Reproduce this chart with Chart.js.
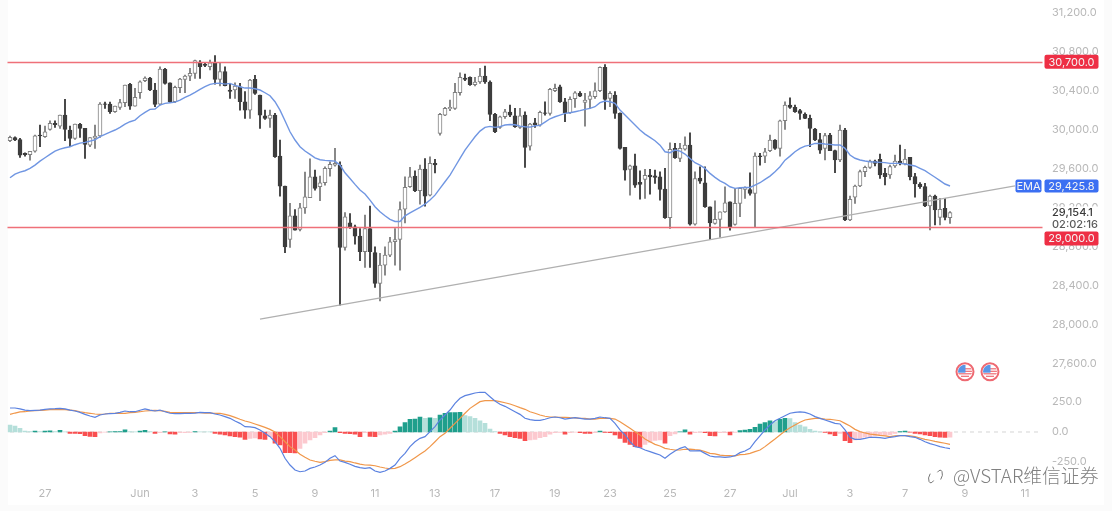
<!DOCTYPE html>
<html>
<head>
<meta charset="utf-8">
<title>BTC 4H</title>
<script src="https://cdn.jsdelivr.net/npm/chart.js@4/dist/chart.umd.min.js"></script>
<style>
  html, body { margin: 0; padding: 0; background: #fff; }
  canvas { display: block; }
</style>
</head>
<body>
<canvas id="chart" width="1112" height="511"></canvas>
<script>
// 4H candles, oldest first
const opens = [
  29890, 29921, 29903, 29760, 29746, 29784, 29948, 29931, 30006, 30068,
  30040, 30153, 29999, 29914, 30057, 30016, 29845, 29917, 29938, 30269,
  30266, 30187, 30232, 30280, 30468, 30245, 30382, 30505, 30533, 30410,
  30266, 30622, 30485, 30290, 30434, 30519, 30553, 30581, 30697, 30673,
  30649, 30690, 30519, 30598, 30410, 30410, 30444, 30290, 30204, 30519,
  30358, 30146, 30119, 30153, 29732, 29425, 28877, 29120, 28980, 29202,
  29305, 29520, 29418, 29459, 29603, 29640, 29640, 28795, 29048, 29007,
  28912, 28751, 28990, 28744, 28426, 28614, 28717, 28854, 28877, 29189,
  29418, 29527, 29377, 29599, 29332, 29657, 29965, 30153, 30218, 30221,
  30382, 30533, 30540, 30464, 30492, 30553, 30492, 30160, 30027, 30136,
  30184, 30146, 30027, 30153, 29835, 30074, 30050, 30177, 30170, 30403,
  30444, 30290, 30177, 30321, 30375, 30283, 30314, 30341, 30403, 30642,
  30324, 30358, 30170, 29821, 29596, 29633, 29462, 29493, 29538, 29531,
  29520, 29394, 29100, 29811, 29708, 29804, 29845, 29035, 29507, 29459,
  29213, 29042, 29083, 29161, 29264, 29031, 29247, 29390, 29390, 29349,
  29736, 29732, 29787, 29897, 29811, 30095, 30256, 30232, 30198, 30160,
  30119, 30009, 29903, 29812, 29949, 29788, 29692, 30000, 29077, 29310,
  29426, 29573, 29617, 29682, 29699, 29556, 29539, 29631, 29682, 29651,
  29720, 29521, 29446, 29419, 29221, 29323, 29104, 29197, 29101
];
const highs = [
  29938, 29931, 29914, 29767, 29780, 29948, 30050, 30040, 30095, 30095,
  30153, 30314, 30040, 30061, 30068, 30016, 29921, 30050, 30280, 30286,
  30286, 30245, 30314, 30461, 30478, 30427, 30505, 30546, 30540, 30478,
  30649, 30632, 30485, 30451, 30529, 30564, 30632, 30717, 30711, 30683,
  30717, 30762, 30690, 30649, 30478, 30485, 30478, 30393, 30519, 30560,
  30358, 30204, 30204, 30170, 29897, 29425, 29247, 29185, 29247, 29568,
  29705, 29589, 29527, 29623, 29674, 29811, 29674, 29154, 29144, 29024,
  28990, 29127, 29219, 28802, 28734, 28802, 28898, 28990, 29264, 29520,
  29616, 29582, 29640, 29708, 29726, 29698, 30170, 30232, 30307, 30478,
  30587, 30574, 30546, 30540, 30632, 30656, 30505, 30170, 30143, 30211,
  30256, 30221, 30221, 30187, 30068, 30119, 30194, 30290, 30427, 30471,
  30461, 30324, 30341, 30393, 30393, 30375, 30393, 30485, 30649, 30670,
  30393, 30393, 30177, 29821, 29640, 29753, 29582, 29596, 29596, 29589,
  29572, 29606, 29869, 29862, 29862, 29931, 29972, 29572, 29623, 29623,
  29213, 29274, 29161, 29418, 29264, 29401, 29411, 29418, 29561, 29767,
  29760, 29811, 29948, 29903, 30102, 30290, 30331, 30256, 30211, 30177,
  30153, 30016, 29965, 29966, 29966, 29795, 30051, 30017, 29323, 29436,
  29590, 29631, 29692, 29692, 29754, 29607, 29641, 29744, 29846, 29802,
  29720, 29556, 29460, 29453, 29333, 29333, 29299, 29299, 29162
];
const lows = [
  29880, 29890, 29719, 29732, 29691, 29773, 29828, 29924, 29999, 30027,
  30016, 29890, 29828, 29903, 29924, 29708, 29828, 29811, 29924, 30222,
  30170, 30180, 30211, 30239, 30211, 30245, 30324, 30495, 30403, 30239,
  30256, 30471, 30280, 30280, 30382, 30382, 30505, 30529, 30529, 30649,
  30615, 30471, 30451, 30451, 30324, 30324, 30204, 30119, 30119, 30365,
  30016, 30109, 30027, 29719, 29322, 28741, 28795, 28973, 28966, 29144,
  29305, 29384, 29274, 29435, 29527, 29630, 28204, 28768, 28990, 28830,
  28659, 28590, 28590, 28385, 28248, 28511, 28700, 28614, 28563, 29048,
  29411, 29367, 29240, 29219, 29325, 29561, 29948, 30146, 30198, 30211,
  30358, 30505, 30457, 30451, 30478, 30478, 30095, 29972, 30016, 30119,
  30136, 30027, 30016, 29616, 29794, 30027, 30040, 30153, 30153, 30393,
  30283, 30085, 30170, 30232, 30341, 30040, 30221, 30324, 30393, 30211,
  30239, 30119, 29804, 29486, 29332, 29411, 29291, 29298, 29343, 29452,
  29281, 29093, 28990, 29708, 29674, 29794, 29024, 29024, 29452, 29206,
  28877, 29035, 28898, 29154, 28973, 29024, 29110, 29298, 29332, 29000,
  29640, 29664, 29777, 29801, 29732, 30006, 30221, 30180, 30109, 30115,
  29828, 29890, 29760, 29692, 29788, 29563, 29675, 29070, 29070, 29248,
  29419, 29521, 29607, 29631, 29504, 29436, 29504, 29617, 29641, 29641,
  29487, 29310, 29402, 29214, 28974, 29026, 29026, 29077, 29043
];
const closes = [
  29924, 29897, 29743, 29746, 29780, 29941, 29938, 29982, 30068, 30054,
  30153, 30006, 29914, 30061, 30016, 29852, 29921, 29938, 30266, 30263,
  30187, 30245, 30280, 30461, 30245, 30334, 30495, 30533, 30410, 30263,
  30625, 30478, 30290, 30437, 30522, 30553, 30581, 30711, 30649, 30663,
  30690, 30519, 30598, 30454, 30396, 30451, 30290, 30204, 30512, 30375,
  30153, 30119, 30153, 29726, 29425, 28802, 29120, 28973, 29202, 29315,
  29520, 29401, 29459, 29606, 29647, 29657, 28795, 29110, 29000, 28912,
  28751, 28990, 28751, 28426, 28614, 28717, 28854, 28877, 29185, 29411,
  29520, 29377, 29599, 29322, 29657, 29643, 30160, 30221, 30232, 30386,
  30540, 30519, 30464, 30492, 30553, 30492, 30160, 29982, 30136, 30187,
  30153, 30033, 30146, 29821, 30061, 30054, 30180, 30170, 30416, 30427,
  30290, 30177, 30314, 30382, 30348, 30307, 30351, 30403, 30642, 30314,
  30375, 30170, 29811, 29589, 29633, 29435, 29442, 29534, 29520, 29514,
  29390, 29100, 29801, 29715, 29811, 29845, 29035, 29503, 29476, 29213,
  29048, 29083, 29161, 29254, 29007, 29247, 29401, 29408, 29349, 29732,
  29726, 29777, 29897, 29811, 30095, 30256, 30232, 30187, 30170, 30119,
  30016, 29897, 29794, 29942, 29788, 29692, 30000, 29077, 29289, 29426,
  29573, 29617, 29682, 29658, 29539, 29521, 29624, 29682, 29651, 29703,
  29521, 29446, 29419, 29221, 29323, 29180, 29186, 29104, 29154.1
];
const emaValues = [
  29510, 29548, 29568, 29582, 29606, 29640, 29681, 29715, 29750, 29784,
  29804, 29818, 29828, 29849, 29866, 29873, 29886, 29900, 29931, 29955,
  29979, 30000, 30027, 30061, 30085, 30102, 30146, 30180, 30211, 30215,
  30256, 30273, 30280, 30286, 30307, 30334, 30358, 30386, 30416, 30444,
  30468, 30478, 30481, 30471, 30478, 30457, 30444, 30430, 30430, 30423,
  30410, 30382, 30351, 30290, 30204, 30095, 29982, 29897, 29828, 29784,
  29750, 29715, 29695, 29688, 29685, 29681, 29640, 29561, 29503, 29442,
  29384, 29343, 29281, 29213, 29161, 29120, 29083, 29062, 29062, 29120,
  29151, 29178, 29206, 29240, 29281, 29332, 29401, 29469, 29538, 29623,
  29708, 29794, 29862, 29931, 29989, 30027, 30037, 30027, 30034, 30051,
  30057, 30054, 30040, 30034, 30030, 30044, 30047, 30081, 30115, 30136,
  30153, 30170, 30177, 30187, 30198, 30211, 30222, 30239, 30280, 30297,
  30290, 30273, 30204, 30153, 30102, 30051, 30000, 29958, 29924, 29890,
  29845, 29777, 29767, 29794, 29784, 29753, 29708, 29664, 29640, 29606,
  29555, 29514, 29479, 29452, 29418, 29401, 29408, 29411, 29411, 29435,
  29459, 29493, 29527, 29572, 29623, 29691, 29732, 29777, 29811, 29835,
  29845, 29862, 29863, 29857, 29853, 29846, 29846, 29812, 29744, 29710,
  29692, 29682, 29675, 29672, 29668, 29665, 29658, 29658, 29658, 29651,
  29641, 29631, 29607, 29583, 29549, 29515, 29480, 29446, 29425.8
];

// MACD pane
const macdLine = [
  200, 200, 192, 183, 178, 181, 183, 189, 192, 194,
  197, 192, 183, 175, 164, 147, 133, 122, 142, 150,
  153, 156, 164, 175, 169, 169, 181, 192, 183, 175,
  183, 169, 156, 153, 153, 156, 156, 158, 164, 161,
  161, 150, 142, 128, 114, 92, 72, 44, 42, 36,
  17, -11, -39, -81, -136, -219, -275, -317, -331, -325,
  -303, -292, -275, -253, -219, -197, -242, -253, -269, -286,
  -297, -303, -297, -325, -336, -325, -303, -275, -219, -178,
  -122, -81, -53, -39, 3, 44, 100, 142, 183, 239,
  281, 303, 314, 325, 331, 331, 294, 258, 231, 214,
  192, 169, 147, 114, 103, 97, 97, 106, 119, 125,
  119, 108, 114, 119, 114, 108, 108, 114, 125, 119,
  114, 72, 17, -25, -81, -122, -131, -150, -164, -178,
  -192, -219, -186, -158, -136, -122, -158, -158, -156, -178,
  -200, -208, -208, -211, -208, -197, -172, -158, -136, -81,
  -33, 17, 58, 94, 114, 136, 156, 164, 167, 164,
  150, 128, 114, 100, 86, 72, 67, 17, -44, -61,
  -61, -53, -44, -44, -47, -53, -44, -39, -31, -31,
  -39, -44, -61, -81, -97, -108, -122, -131, -139
];
const signalLine = [
  147, 158, 167, 169, 175, 178, 181, 183, 186, 186,
  189, 186, 183, 178, 169, 161, 156, 150, 147, 150,
  156, 156, 156, 156, 161, 164, 169, 175, 178, 181,
  178, 172, 164, 161, 161, 161, 161, 161, 161, 158,
  158, 156, 156, 147, 136, 122, 106, 92, 81, 67,
  53, 39, 22, 0, -39, -81, -122, -150, -186, -211,
  -233, -244, -253, -247, -236, -233, -233, -242, -247, -258,
  -267, -275, -276, -281, -292, -300, -306, -303, -289, -267,
  -242, -214, -186, -158, -122, -81, -39, -11, 31, 72,
  114, 156, 197, 225, 253, 261, 261, 261, 253, 244,
  233, 219, 203, 189, 169, 156, 142, 131, 125, 125,
  122, 122, 119, 117, 114, 114, 108, 108, 114, 114,
  114, 108, 86, 58, 31, 3, -25, -58, -81, -103,
  -117, -136, -144, -150, -150, -144, -142, -147, -150, -164,
  -178, -183, -192, -197, -197, -200, -189, -186, -178, -164,
  -150, -122, -89, -58, -25, 8, 36, 58, 81, 100,
  108, 114, 114, 108, 106, 100, 94, 72, 50, 22,
  3, -8, -17, -22, -28, -33, -39, -33, -31, -31,
  -33, -39, -50, -61, -69, -78, -86, -94, -103
];
const macdHist = [
  58, 50, 30, 8, 3, 8, 3, 8, 9, 3,
  14, 2, -11, -12, -14, -31, -36, -39, -8, -2,
  2, 3, 4, 19, 3, 1, 8, 14, 3, -11,
  -6, 2, -17, -19, -6, -5, -3, 3, 2, 1,
  0.5, -11, -19, -25, -33, -39, -44, -61, -53, -50,
  -58, -61, -39, -94, -108, -172, -173, -174, -136, -94,
  -67, -47, -25, -6, 8, 36, -6, -11, -14, -19,
  -39, -6, -36, -39, -25, -19, -11, 8, 44, 78,
  105, 108, 125, 114, 119, 114, 142, 156, 161, 162,
  164, 136, 128, 114, 94, 72, 25, 3, -11, -25,
  -39, -47, -53, -72, -67, -61, -47, -39, -19, -6,
  -3, -19, -6, -1, -6, -11, -12, -6, 8, -3,
  -6, -25, -53, -86, -103, -122, -128, -103, -86, -70,
  -65, -94, -31, -17, 2, 19, -19, -6, -3, -6,
  -31, -33, -6, -5, -25, -3, 11, 17, 22, 39,
  67, 78, 94, 86, 106, 114, 112, 78, 58, 44,
  22, 8, 2, -3, -17, -31, -11, -72, -89, -67,
  -53, -44, -39, -33, -31, -28, -22, -11, 3, 8,
  -2, -11, -17, -25, -31, -39, -44, -45, -44
];

// bar slots on the time axis, including the empty ones after the last candle
const barSlots = Array.from({ length: 207 }, (_, i) => i);
const dayTickSlots = [7, 26, 37, 49, 61, 73, 85, 97, 109, 120, 132, 144, 156, 168, 179, 191, 203];
const dayTickLabels = ["27", "Jun", "3", "5", "9", "11", "13", "17", "19", "23", "25", "27", "Jul", "3", "7", "9", "11"];

const priceTicks = [31200, 30800, 30400, 30000, 29600, 29200, 28800, 28400, 28000, 27600];
const macdTicks = [250, 0, -250];
const levelPrices = [30700, 29000];
const trendSlots = [50, 201];
const trendPrices = [28061, 29425.8];
const newsSlots = [191, 196];
const newsPrice = 27521;
const emaLast = 29425.8;
const lastPrice = 29154.1;
const barCountdown = "02:02:16";

const CANDLE_DOWN = "#3d3d3d";
const CANDLE_UP_EDGE = "#808080";
const TICK_COLOR = "#b8b8b8";
const LEVEL_COLOR = "#ef7079";
const TAG_RED = "#ee2f45";
const TAG_BLUE = "#3b6ff2";

function fmtPrice(v) {
  return v.toLocaleString("en-US", { minimumFractionDigits: 1, maximumFractionDigits: 1 });
}

function candleEdge(ctx) {
  const i = ctx.dataIndex;
  return closes[i] >= opens[i] ? CANDLE_UP_EDGE : CANDLE_DOWN;
}

function candleFill(ctx) {
  const i = ctx.dataIndex;
  return closes[i] >= opens[i] ? "#ffffff" : CANDLE_DOWN;
}

// histogram tone depends on the sign and on whether the bar grew or shrank
function histColor(ctx) {
  const i = ctx.dataIndex;
  const v = macdHist[i];
  const rising = i === 0 ? false : v > macdHist[i - 1];
  if (v >= 0) return rising ? "#1f9f8c" : "#b5dfda";
  return rising ? "#fcc9cf" : "#f94f50";
}

function tag(ctx, left, top, w, h, fill, text) {
  ctx.fillStyle = fill;
  ctx.beginPath();
  ctx.roundRect(left, top, w, h, 2);
  ctx.fill();
  ctx.fillStyle = "#f4f4f4";
  ctx.fillText(text, left + w / 2, top + h / 2 + 0.5);
}

function drawNewsIcon(ctx, x, y) {
  ctx.save();
  ctx.fillStyle = "#fff";
  ctx.strokeStyle = "#ee6a72";
  ctx.lineWidth = 2;
  ctx.beginPath();
  ctx.arc(x, y, 8.5, 0, Math.PI * 2);
  ctx.fill();
  ctx.stroke();
  ctx.beginPath();
  ctx.arc(x, y, 7, 0, Math.PI * 2);
  ctx.clip();
  ctx.fillStyle = "#ee6a72";
  ctx.fillRect(x, y - 3.5, 8, 1.2);
  ctx.fillRect(x, y - 1, 8, 1.2);
  ctx.fillRect(x - 8, y + 1.5, 16, 1.2);
  ctx.fillRect(x - 4, y + 4, 8, 1.2);
  ctx.fillStyle = "#5a96e6";
  ctx.fillRect(x - 7, y - 7, 7.5, 8);
  ctx.restore();
}

// price levels, axis tags and the small extras around the panes
const overlayPlugin = {
  id: "overlay",
  beforeDraw(chart) {
    const ctx = chart.ctx;
    ctx.save();
    ctx.fillStyle = "#fbfbfb";
    ctx.fillRect(0, 0, chart.width, chart.height);
    ctx.fillStyle = "#fff";
    ctx.fillRect(8, 0, 1096, 505);
    ctx.restore();
  },
  afterDatasetsDraw(chart) {
    const ctx = chart.ctx;
    const { left, right } = chart.chartArea;
    const y = chart.scales.y;
    ctx.save();
    ctx.strokeStyle = LEVEL_COLOR;
    ctx.lineWidth = 1.5;
    levelPrices.forEach((p) => {
      const py = Math.round(y.getPixelForValue(p)) + 0.5;
      ctx.beginPath();
      ctx.moveTo(left, py);
      ctx.lineTo(right, py);
      ctx.stroke();
    });
    ctx.restore();
  },
  afterDraw(chart) {
    const ctx = chart.ctx;
    const { right } = chart.chartArea;
    const y = chart.scales.y;
    const y2 = chart.scales.y2;
    const x = chart.scales.x;
    const labelX = right + 9.5;
    ctx.save();

    // MACD axis shares the strip with the price axis
    ctx.font = "11px Inter";
    ctx.fillStyle = TICK_COLOR;
    ctx.textBaseline = "middle";
    ctx.textAlign = "left";
    macdTicks.forEach((v) => {
      ctx.fillText(fmtPrice(v), labelX, y2.getPixelForValue(v));
    });

    // last price block
    const lastY = y.getPixelForValue(lastPrice);
    ctx.fillStyle = "#fff";
    ctx.fillRect(right + 3, lastY - 6, 56, 26);
    ctx.font = "500 11px Inter";
    ctx.fillStyle = "#3a3a3a";
    ctx.fillText(fmtPrice(lastPrice), labelX, lastY + 0.5);
    ctx.fillStyle = "#5a5a5a";
    ctx.fillText(barCountdown, labelX, lastY + 12.5);

    // axis tags
    ctx.font = "11px Inter";
    ctx.textAlign = "center";
    const emaY = y.getPixelForValue(emaLast);
    tag(ctx, right - 27, emaY - 6.5, 26, 13, TAG_BLUE, "EMA");
    tag(ctx, right + 2, emaY - 6.5, 54, 13, TAG_BLUE, fmtPrice(emaLast));
    const topY = y.getPixelForValue(levelPrices[0]);
    tag(ctx, right + 2, topY - 7, 54, 14, TAG_RED, fmtPrice(levelPrices[0]));
    const lowY = y.getPixelForValue(levelPrices[1]);
    tag(ctx, right + 2, lowY + 4, 54, 14, TAG_RED, fmtPrice(levelPrices[1]));

    newsSlots.forEach((s) => {
      drawNewsIcon(ctx, x.getPixelForValue(s), y.getPixelForValue(newsPrice));
    });

    // account mark in the corner
    ctx.textAlign = "left";
    ctx.font = "300 18.8px 'Noto Sans CJK SC'";
    ctx.lineJoin = "round";
    ctx.strokeStyle = "rgba(255,255,255,0.7)";
    ctx.lineWidth = 2;
    ctx.strokeText("@VSTAR维信证券", 953, 476);
    ctx.fillStyle = "#808080";
    ctx.fillText("@VSTAR维信证券", 953, 476);
    ctx.strokeStyle = "#777";
    ctx.lineWidth = 1;
    ctx.beginPath();
    ctx.ellipse(932, 477, 3, 6, 0.3, 0.5, 3.6);
    ctx.stroke();
    ctx.beginPath();
    ctx.ellipse(939, 476, 3, 6, 0.3, -2.6, 0.5);
    ctx.stroke();
    ctx.restore();
  }
};

const chart = new Chart(document.getElementById("chart"), {
  data: {
    labels: barSlots,
    datasets: [
      { type: "line", label: "EMA", data: emaValues, yAxisID: "y", order: 1, borderColor: "#7096e2", borderWidth: 1.4, pointRadius: 0 },
      { type: "line", label: "Trend", data: trendSlots.map((s, i) => ({ x: s, y: trendPrices[i] })), yAxisID: "y", order: 3, borderColor: "#b0b0b0", borderWidth: 1.3, pointRadius: 0 },
      { type: "bar", label: "Body", data: opens.map((o, i) => [o, closes[i]]), yAxisID: "y", order: 5, grouped: false, barThickness: 4, borderWidth: 1, borderSkipped: false, backgroundColor: candleFill, borderColor: candleEdge },
      { type: "bar", label: "Wick", data: lows.map((l, i) => [l, highs[i]]), yAxisID: "y", order: 6, grouped: false, barThickness: 1.2, borderWidth: 0, backgroundColor: candleEdge },
      { type: "line", label: "MACD", data: macdLine, yAxisID: "y2", order: 1, borderColor: "#5b82e0", borderWidth: 1.2, pointRadius: 0 },
      { type: "line", label: "Signal", data: signalLine, yAxisID: "y2", order: 2, borderColor: "#f0974a", borderWidth: 1.2, pointRadius: 0 },
      { type: "bar", label: "Histogram", data: macdHist, yAxisID: "y2", order: 7, grouped: false, barThickness: 4, borderWidth: 0, backgroundColor: histColor },
      { type: "line", label: "Zero", data: barSlots.map(() => 0), yAxisID: "y2", order: 8, borderColor: "#d4d4d4", borderWidth: 1, borderDash: [4, 4], pointRadius: 0 }
    ]
  },
  options: {
    responsive: false,
    animation: false,
    layout: { padding: { left: 7.5, right: 0, top: 0, bottom: 0 } },
    plugins: { legend: { display: false }, tooltip: { enabled: false } },
    scales: {
      x: {
        type: "category",
        offset: true,
        grid: { display: false, drawTicks: false },
        border: { display: false },
        ticks: {
          autoSkip: false,
          maxRotation: 0,
          minRotation: 0,
          padding: 2,
          color: TICK_COLOR,
          font: { family: "Inter", size: 11 },
          callback: (val, i) => {
            const at = dayTickSlots.indexOf(i);
            return at === -1 ? "" : dayTickLabels[at];
          }
        },
        afterFit: (scale) => {
          scale.height = 26;
          scale.paddingLeft = 0;
          scale.paddingRight = 0;
        }
      },
      y: {
        position: "right",
        min: 26359,
        max: 31333.3,
        grid: { display: false, drawTicks: false },
        border: { display: false },
        afterBuildTicks: (scale) => {
          scale.ticks = priceTicks.map((v) => ({ value: v }));
        },
        ticks: {
          padding: 9.5,
          color: TICK_COLOR,
          font: { family: "Inter", size: 11 },
          callback: (v) => fmtPrice(v)
        },
        afterFit: (scale) => {
          scale.width = 69.5;
          scale.paddingTop = 0;
          scale.paddingBottom = 0;
        }
      },
      y2: {
        display: false,
        position: "right",
        min: -441.67,
        max: 3600
      }
    }
  },
  plugins: [overlayPlugin]
});
</script>
</body>
</html>
